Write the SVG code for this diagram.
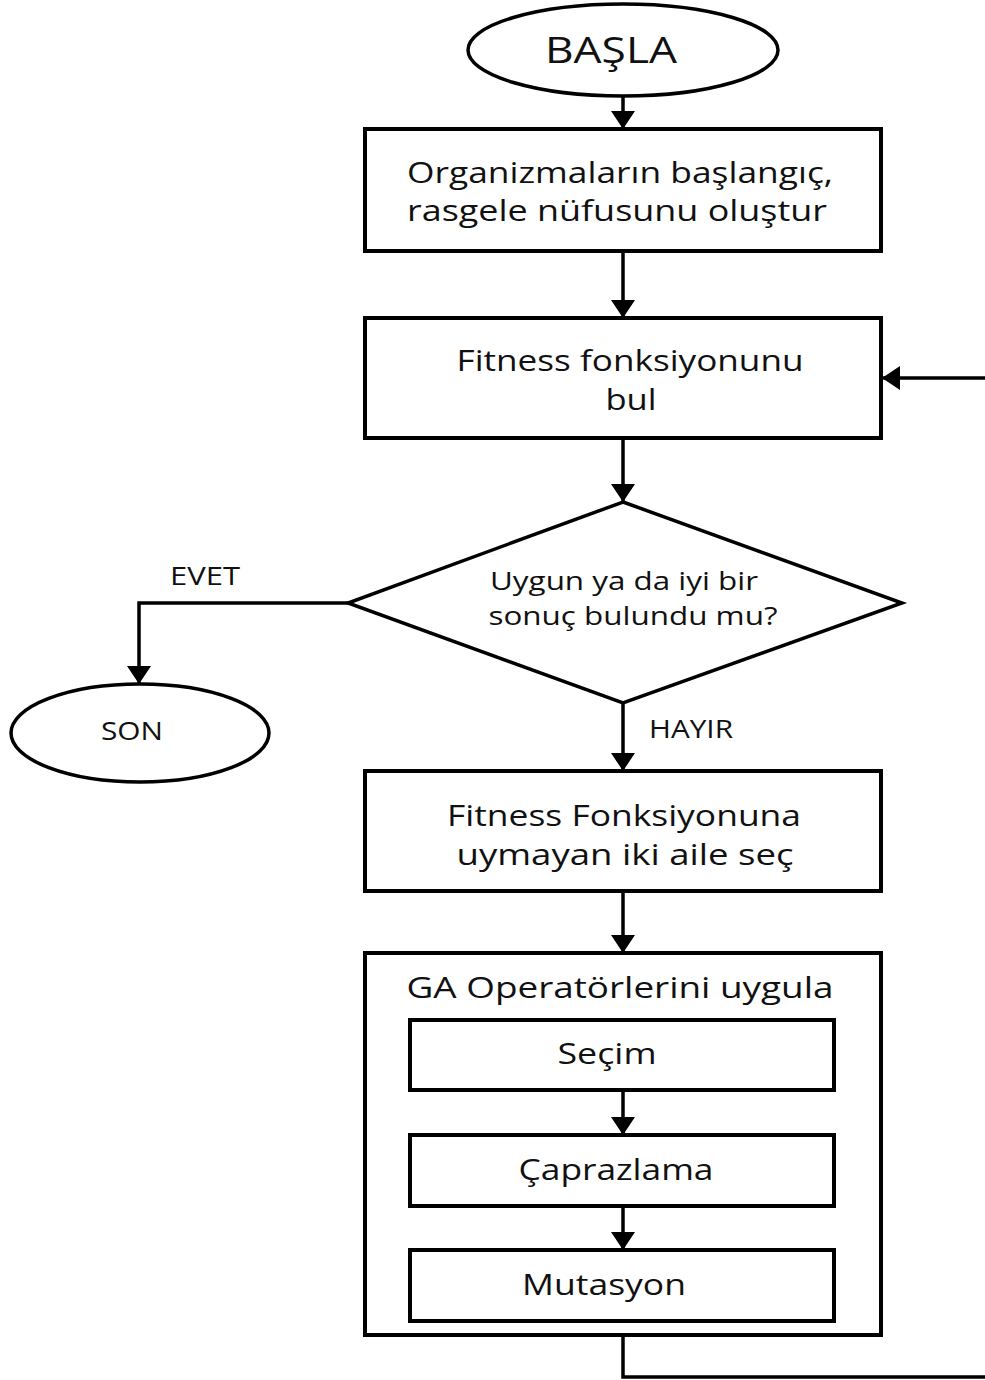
<svg xmlns="http://www.w3.org/2000/svg" width="985" height="1380" viewBox="0 0 985 1380">
  <style>
    .box { fill: #fff; stroke: #000; stroke-width: 4; }
    .shape { fill: #fff; stroke: #000; stroke-width: 3.5; }
    .wire { fill: none; stroke: #000; stroke-width: 3.5; }
    text { font-family: "Open Sans", "DejaVu Sans", sans-serif; fill: #111; text-anchor: middle; }
    .t29 { font-size: 30px; }
    .t24 { font-size: 25px; }
    .t35 { font-size: 36px; }
  </style>
  <defs>
    <marker id="arrow" markerUnits="userSpaceOnUse" markerWidth="18" markerHeight="24" viewBox="0 0 18 24" refX="17" refY="12" orient="auto">
      <path d="M0,0 L18,12 L0,24 Z" fill="#000"/>
    </marker>
  </defs>

  <g id="start">
    <ellipse class="shape" cx="623" cy="50" rx="155" ry="46"/>
    <text class="t35" x="611" y="63" textLength="132" lengthAdjust="spacingAndGlyphs">BAŞLA</text>
  </g>

  <g id="init-population">
    <rect class="box" x="365" y="129" width="516" height="122"/>
    <text class="t29" x="620" y="183" textLength="426" lengthAdjust="spacingAndGlyphs">Organizmaların başlangıç,</text>
    <text class="t29" x="617" y="221" textLength="420" lengthAdjust="spacingAndGlyphs">rasgele nüfusunu oluştur</text>
  </g>

  <g id="fitness">
    <rect class="box" x="365" y="318" width="516" height="120"/>
    <text class="t29" x="630" y="371" textLength="347" lengthAdjust="spacingAndGlyphs">Fitness fonksiyonunu</text>
    <text class="t29" x="631" y="410" textLength="51" lengthAdjust="spacingAndGlyphs">bul</text>
  </g>

  <g id="decision">
    <polygon class="shape" points="623,502 902,603 623,703 348,603"/>
    <text class="t24" x="624" y="590" textLength="268" lengthAdjust="spacingAndGlyphs">Uygun ya da iyi bir</text>
    <text class="t24" x="633" y="625" textLength="289" lengthAdjust="spacingAndGlyphs">sonuç bulundu mu?</text>
  </g>

  <g id="end">
    <ellipse class="shape" cx="140" cy="733" rx="129" ry="49"/>
    <text class="t24" x="132" y="740" textLength="62" lengthAdjust="spacingAndGlyphs">SON</text>
  </g>

  <g id="select-parents">
    <rect class="box" x="365" y="771" width="516" height="120"/>
    <text class="t29" x="624" y="826" textLength="354" lengthAdjust="spacingAndGlyphs">Fitness Fonksiyonuna</text>
    <text class="t29" x="625" y="865" textLength="337" lengthAdjust="spacingAndGlyphs">uymayan iki aile seç</text>
  </g>

  <g id="ga-operators">
    <rect class="box" x="365" y="953" width="516" height="382"/>
    <text class="t29" x="620" y="998" textLength="427" lengthAdjust="spacingAndGlyphs">GA Operatörlerini uygula</text>
  </g>

  <g id="selection">
    <rect class="box" x="410" y="1020" width="424" height="70"/>
    <text class="t29" x="607" y="1064" textLength="99" lengthAdjust="spacingAndGlyphs">Seçim</text>
  </g>

  <g id="crossover">
    <rect class="box" x="410" y="1135" width="424" height="71"/>
    <text class="t29" x="616" y="1180" textLength="195" lengthAdjust="spacingAndGlyphs">Çaprazlama</text>
  </g>

  <g id="mutation">
    <rect class="box" x="410" y="1250" width="424" height="71"/>
    <text class="t29" x="604" y="1295" textLength="164" lengthAdjust="spacingAndGlyphs">Mutasyon</text>
  </g>

  <!-- connectors, drawn over the boxes so the inner arrows stay visible -->
  <g id="connectors">
    <line class="wire" x1="623" y1="96" x2="623" y2="128" marker-end="url(#arrow)"/>
    <line class="wire" x1="623" y1="251" x2="623" y2="317" marker-end="url(#arrow)"/>
    <line class="wire" x1="623" y1="438" x2="623" y2="501" marker-end="url(#arrow)"/>
    <polyline class="wire" points="348,603 139,603 139,683" marker-end="url(#arrow)"/>
    <line class="wire" x1="623" y1="703" x2="623" y2="770" marker-end="url(#arrow)"/>
    <line class="wire" x1="623" y1="891" x2="623" y2="952" marker-end="url(#arrow)"/>
    <line class="wire" x1="623" y1="1092" x2="623" y2="1134" marker-end="url(#arrow)"/>
    <line class="wire" x1="623" y1="1208" x2="623" y2="1249" marker-end="url(#arrow)"/>
    <polyline class="wire" points="623,1337 623,1377 992,1377 992,378 883,378" marker-end="url(#arrow)"/>
    <text class="t24" x="205" y="585" textLength="70" lengthAdjust="spacingAndGlyphs">EVET</text>
    <text class="t24" x="691" y="738" textLength="84" lengthAdjust="spacingAndGlyphs">HAYIR</text>
  </g>
</svg>
